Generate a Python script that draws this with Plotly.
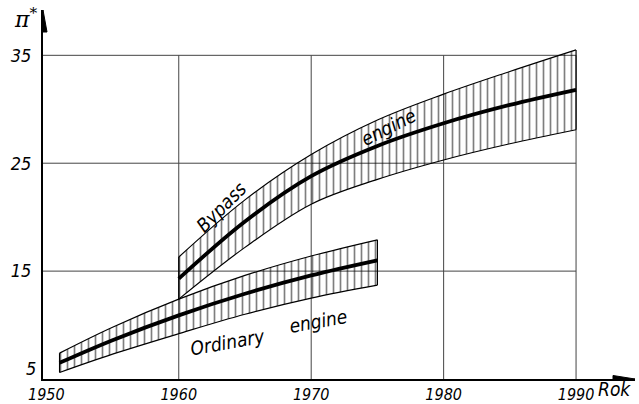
import plotly.graph_objects as go

# Pressure ratio pi* versus year: ordinary and bypass engines (range bands + mean line)
ord_years = [1951, 1955, 1960, 1965, 1970, 1975]
ord_mid = [6.5, 8.6, 10.9, 12.9, 14.6, 16.0]
ord_hi = [7.4, 9.8, 12.4, 14.6, 16.4, 17.9]
ord_lo = [5.6, 7.3, 9.2, 11.0, 12.5, 13.7]

byp_years = [1960, 1965, 1970, 1975, 1980, 1985, 1990]
byp_mid = [14.3, 19.6, 23.8, 26.6, 28.7, 30.4, 31.8]
byp_hi = [16.3, 21.6, 25.8, 29.0, 31.4, 33.5, 35.5]
byp_lo = [12.4, 17.2, 21.2, 23.5, 25.3, 26.8, 28.1]

x_ticks = [1950, 1960, 1970, 1980, 1990]
y_ticks = [15, 25, 35]
y_base = 5
x_range = [1949.75, 1994.45]
y_range = [5, 39.2]

FONT = "Liberation Sans Narrow, DejaVu Sans Condensed, Liberation Sans"
ink = "black"

fig = go.Figure()


def add_band(x, lo, hi, mid):
    fig.add_trace(go.Scatter(
        x=x, y=lo, mode="lines",
        line=dict(color=ink, width=1.2, shape="spline", smoothing=1.0),
        hoverinfo="skip", showlegend=False))
    fig.add_trace(go.Scatter(
        x=x, y=hi, mode="lines", fill="tonexty",
        fillcolor="rgba(0,0,0,0)",
        fillpattern=dict(shape="|", fgcolor=ink, bgcolor="rgba(0,0,0,0)",
                         size=7, solidity=0.24),
        line=dict(color=ink, width=1.2, shape="spline", smoothing=1.0),
        hoverinfo="skip", showlegend=False))
    # closing edges of the band
    fig.add_trace(go.Scatter(
        x=[x[0], x[0], None, x[-1], x[-1]],
        y=[lo[0], hi[0], None, lo[-1], hi[-1]],
        mode="lines", line=dict(color=ink, width=1.2),
        hoverinfo="skip", showlegend=False))
    fig.add_trace(go.Scatter(
        x=x, y=mid, mode="lines",
        line=dict(color=ink, width=3.8, shape="spline", smoothing=1.0),
        hoverinfo="skip", showlegend=False))


add_band(ord_years, ord_lo, ord_hi, ord_mid)
add_band(byp_years, byp_lo, byp_hi, byp_mid)

# grid: vertical lines up to the top value, horizontal lines to the last year
shapes = []
for xv in x_ticks[1:]:
    shapes.append(dict(type="line", xref="x", yref="y", x0=xv, x1=xv,
                       y0=y_base, y1=y_ticks[-1], layer="below",
                       line=dict(color="#444", width=1)))
for yv in y_ticks:
    shapes.append(dict(type="line", xref="x", yref="y", x0=x_range[0], x1=x_ticks[-1],
                       y0=yv, y1=yv, layer="below",
                       line=dict(color="#444", width=1)))
# arrow heads at the axis ends
shapes.append(dict(type="path", xref="x", yref="y", xsizemode="pixel", ysizemode="pixel",
                   xanchor=x_range[0], yanchor=y_range[1],
                   path="M 0 0 L -4 -22 L 4 -22 Z", fillcolor=ink, line=dict(color=ink, width=1)))
shapes.append(dict(type="path", xref="x", yref="y", xsizemode="pixel", ysizemode="pixel",
                   xanchor=x_range[1], yanchor=y_base,
                   path="M 0 0 L -22 -3.5 L -22 3.5 Z", fillcolor=ink, line=dict(color=ink, width=1)))

lab = dict(family=FONT, size=19, color=ink, style="italic")
annotations = [
    dict(x=1963.7, y=8.4, xref="x", yref="y", text="Ordinary", showarrow=False,
         textangle=-10, font=lab),
    dict(x=1970.5, y=10.4, xref="x", yref="y", text="engine", showarrow=False,
         textangle=-10, font=lab),
    dict(x=1963.2, y=20.9, xref="x", yref="y", text="Bypass", showarrow=False,
         textangle=-45, font=lab),
    dict(x=1975.8, y=28.4, xref="x", yref="y", text="engine", showarrow=False,
         textangle=-27, font=lab),
    dict(x=0, y=1, xref="paper", yref="paper", text="π<sup>*</sup>", showarrow=False,
         xanchor="right", yanchor="top", xshift=-4, yshift=8,
         font=dict(family="DejaVu Serif", size=22, color=ink, style="italic")),
    dict(x=1, y=0, xref="paper", yref="paper", text="Rok", showarrow=False,
         xanchor="right", yanchor="middle", xshift=-2, yshift=-10,
         font=dict(family=FONT, size=19, color=ink, style="italic")),
    dict(x=0, y=y_base, xref="paper", yref="y", text=str(y_base), showarrow=False,
         xanchor="right", yanchor="bottom", xshift=-5, yshift=-2,
         font=dict(family=FONT, size=18, color=ink, style="italic")),
]

fig.update_layout(
    width=639, height=404,
    margin=dict(l=43, r=4, t=10, b=25),
    paper_bgcolor="white", plot_bgcolor="white",
    showlegend=False,
    shapes=shapes,
    annotations=annotations,
    xaxis=dict(range=x_range, tickvals=x_ticks, ticktext=[str(v) for v in x_ticks],
               showgrid=False, zeroline=False, showline=True, linecolor=ink, linewidth=1.5,
               ticks="", automargin=False,
               tickfont=dict(family=FONT, size=16, color=ink, style="italic"),
               fixedrange=True),
    yaxis=dict(range=y_range, tickvals=y_ticks, ticktext=[str(v) for v in y_ticks],
               showgrid=False, zeroline=False, showline=True, linecolor=ink, linewidth=2,
               ticks="", ticklabelstandoff=6, automargin=False,
               tickfont=dict(family=FONT, size=18, color=ink, style="italic"),
               fixedrange=True),
)

fig.write_html("out.html")
